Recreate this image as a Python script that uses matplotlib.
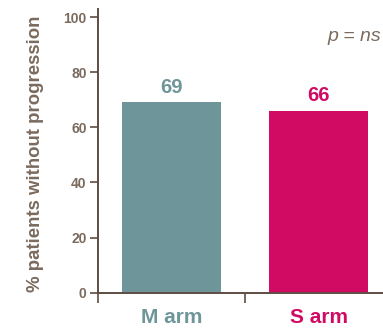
import matplotlib
matplotlib.use("Agg")
import matplotlib.pyplot as plt

categories = ["M arm", "S arm"]
values = [69, 66]
bar_colors = ["#6E969A", "#D10A64"]
yticks = [0, 20, 40, 60, 80, 100]
ylabel = "% patients without progression"
p_text = "p = ns"

text_color = "#7B6A5E"
axis_color = "#5E4D42"

plt.rcParams["font.family"] = ["Liberation Sans", "DejaVu Sans"]

fig = plt.figure(figsize=(3.83, 3.30), dpi=100)
ax = fig.add_axes([0.2551, 0.1130, 0.7449, 0.8597])

x = list(range(len(categories)))
ax.bar(x, values, width=0.675, color=bar_colors, zorder=2)

for xi, v, c in zip(x, values, bar_colors):
    ax.annotate(f"{v}", (xi, v), xytext=(0, 4), textcoords="offset points",
                ha="center", va="bottom", fontsize=14.5, fontweight="bold", color=c)

ax.set_yticks(yticks)
ax.set_yticklabels([str(t) for t in yticks], fontsize=10, fontweight="bold", color=text_color)
ax.tick_params(axis="y", direction="out", length=6, width=1.2, color=axis_color, pad=2)

# category boundaries as ticks, names as minor labels centred under each bar
ax.set_xticks([-0.5, 0.5, 1.5])
ax.set_xticklabels([])
ax.tick_params(axis="x", which="major", direction="out", length=7, width=1.2, color=axis_color)
ax.set_xticks(x, minor=True)
ax.set_xticklabels(categories, minor=True, fontsize=15, fontweight="bold")
ax.tick_params(axis="x", which="minor", length=0, pad=11)
for lbl, c in zip(ax.get_xticklabels(minor=True), bar_colors):
    lbl.set_color(c)

# limits set after the ticks so set_xticks does not widen the view
ax.set_xlim(-0.5, 1.437)
ax.set_ylim(0, 102.9)

for side in ["top", "right"]:
    ax.spines[side].set_visible(False)
for side in ["left", "bottom"]:
    ax.spines[side].set_color(axis_color)
    ax.spines[side].set_linewidth(1.4)

ax.set_ylabel(ylabel, fontsize=13.4, fontweight="bold", color=text_color)
ax.yaxis.set_label_coords(-0.188, 0.49)

ax.text(1.425, 93, p_text, ha="right", va="center", fontsize=14, style="italic", color=text_color)

fig.savefig("out.png", dpi=100)
